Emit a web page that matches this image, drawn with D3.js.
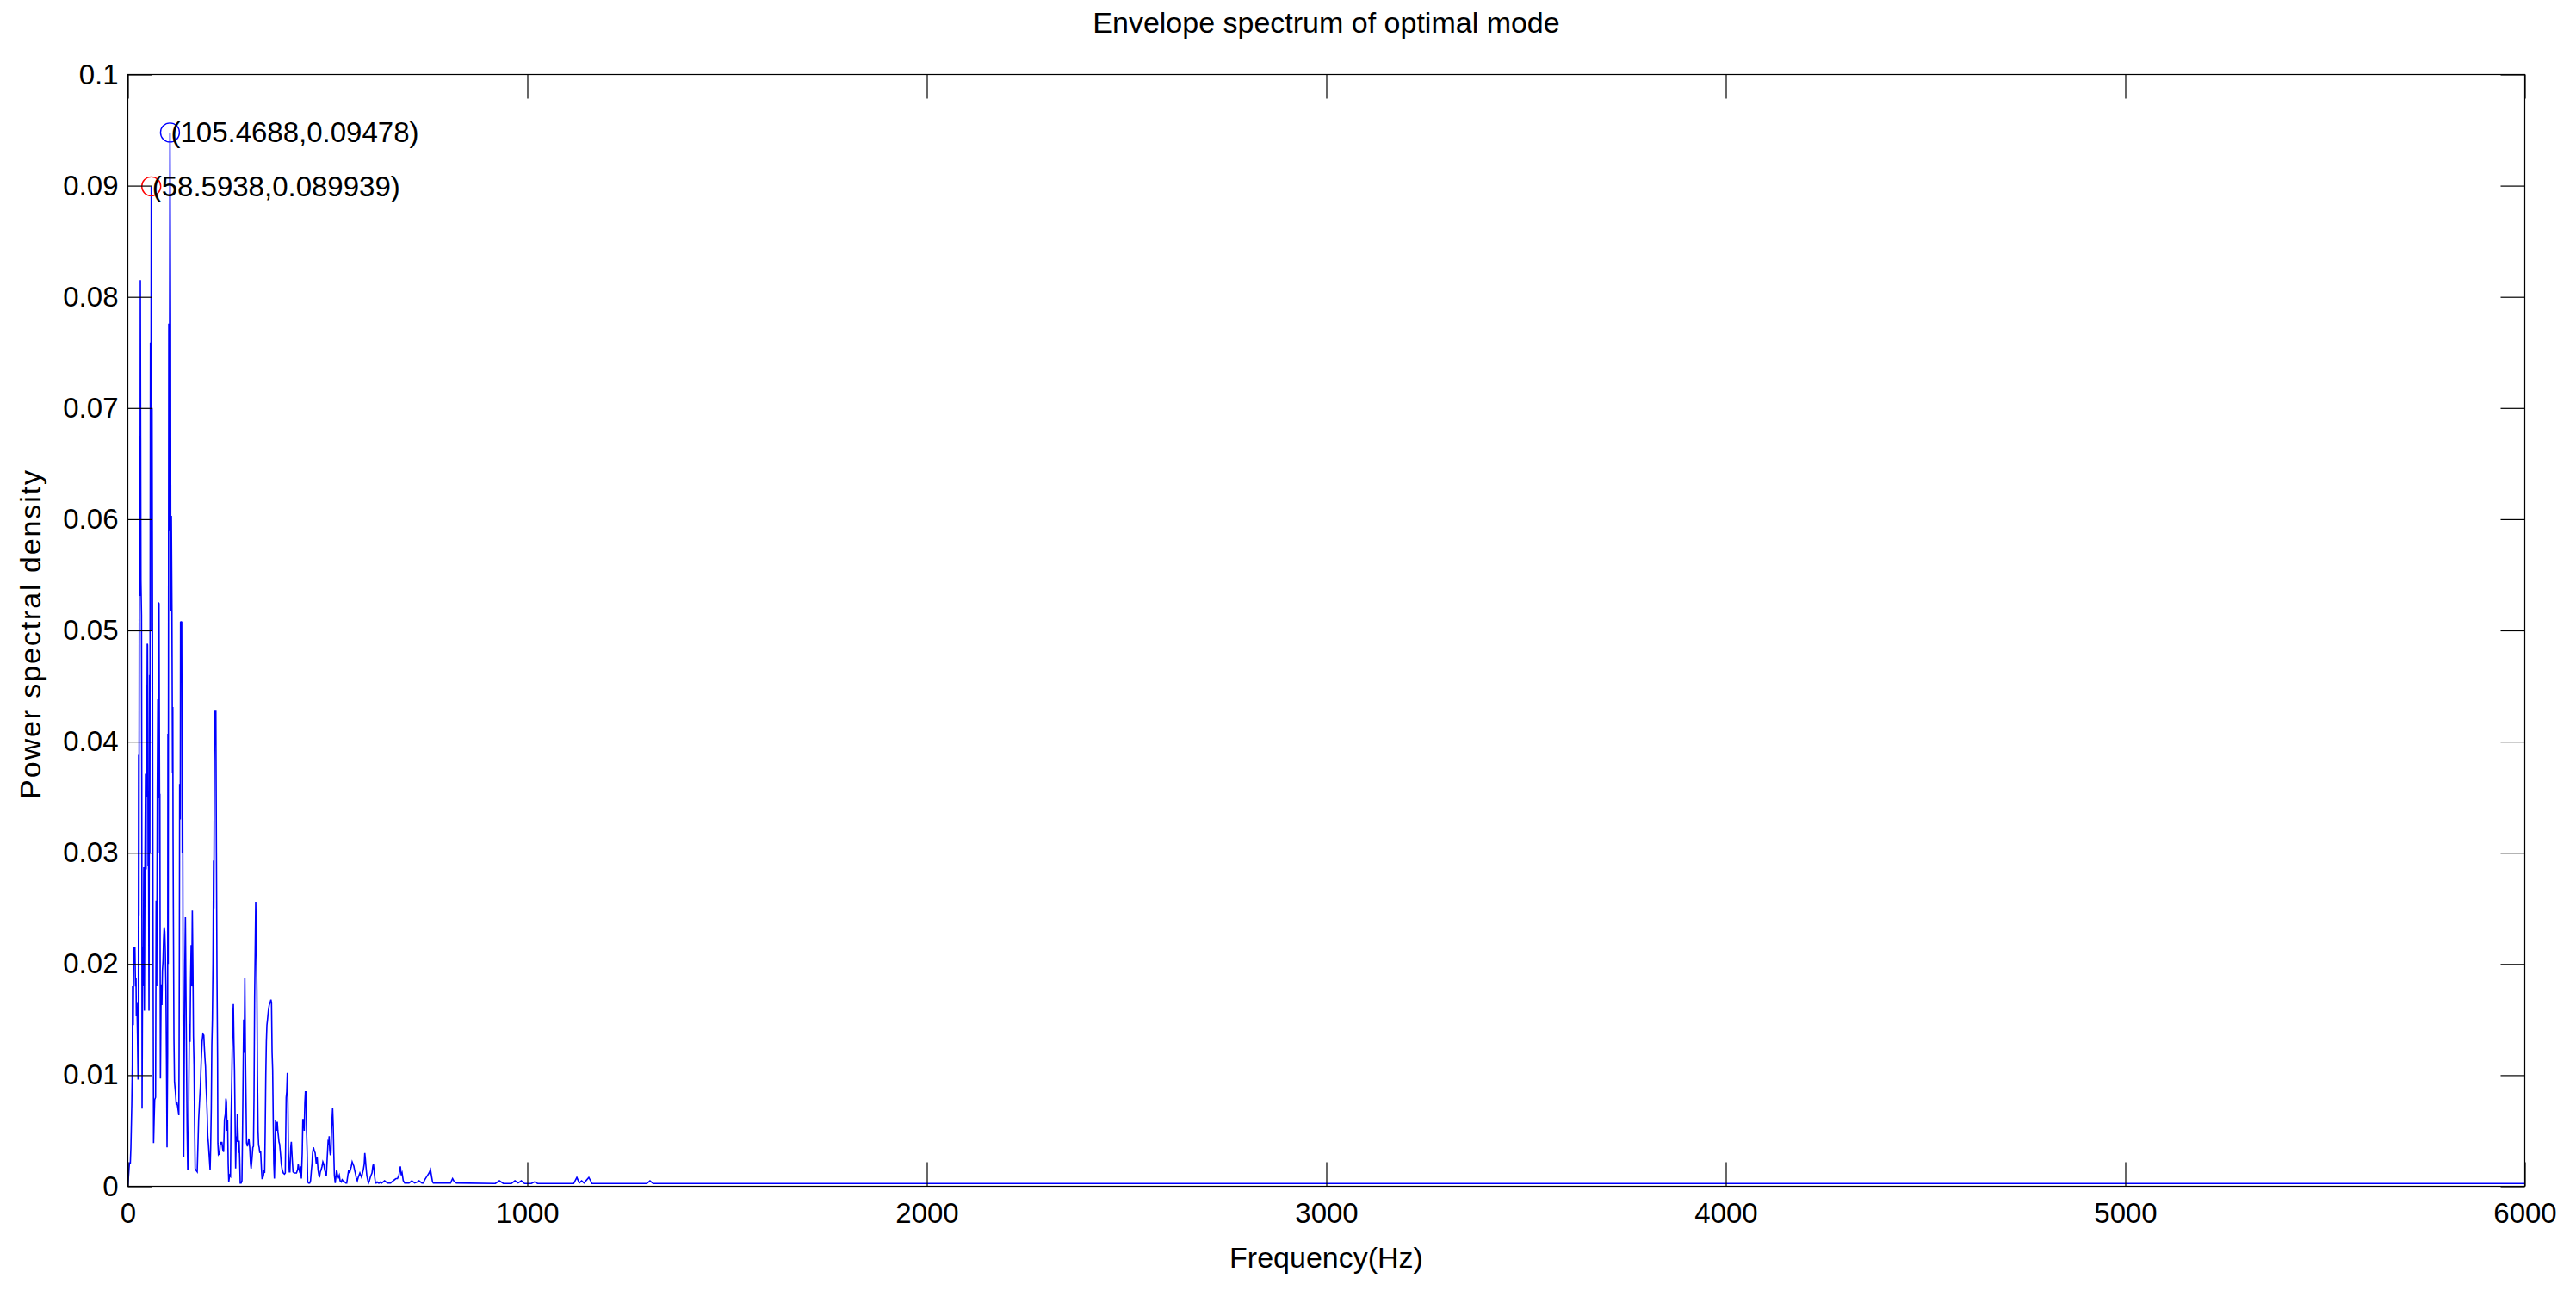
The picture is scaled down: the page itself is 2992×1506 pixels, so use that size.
<!DOCTYPE html>
<html><head><meta charset="utf-8">
<script src="https://cdn.jsdelivr.net/npm/d3@7"></script>
<style>
html,body{margin:0;padding:0;background:#fff;}
svg{display:block;}
text{font-family:"Liberation Sans", Arial, Helvetica, sans-serif;fill:#000;}
</style>
</head><body>
<svg id="chart" width="2992" height="1506"></svg>
<script>
// ---------- data ----------
const freqHz = [
0,4.0,6.2,7.6,9.8,11.2,11.9,13.4,14.8,16.2,17.7,19.1,20.5,21.3,22.7,24.1,25.6,26.3,27.0,27.7,
29.2,30.6,31.3,32.8,34.2,34.9,35.6,37.1,38.5,39.9,41.4,42.8,44.3,45.7,46.4,47.1,48.6,49.3,50.0,50.7,
51.4,52.9,54.3,55.0,56.5,57.2,58.5938,59.8,60.6,61.5,62.2,62.9,64.4,65.8,67.2,69.4,70.8,72.3,73.7,75.1,
75.9,76.6,78.0,79.5,80.2,80.9,81.6,83.0,83.8,85.2,86.6,88.1,89.5,90.9,92.4,93.8,95.3,96.7,98.1,99.6,
100.3,101.0,102.5,103.2,104.6,105.4688,106.8,107.5,108.9,110.4,111.8,112.5,113.2,113.9,115.4,116.8,119.0,121.1,123.3,125.4,
127.6,128.3,129.0,129.7,131.2,131.9,133.3,134.8,136.2,136.9,138.4,139.8,141.2,142.7,144.1,145.6,147.0,148.4,149.9,151.3,
152.7,154.2,155.6,157.0,158.5,159.9,161.4,162.8,164.2,165.7,167.1,168.5,171.4,173.6,175.7,177.2,179.3,181.5,183.6,185.8,
187.9,190.1,191.5,193.0,194.4,195.8,197.3,198.7,200.1,201.6,203.7,205.9,207.3,208.8,210.2,211.6,213.1,214.5,215.2,216.7,
218.1,220.3,221.7,223.1,224.6,225.3,226.7,228.2,229.6,231.0,232.5,233.9,235.3,237.5,239.7,241.8,244.0,245.4,246.8,248.3,
249.7,251.2,252.6,254.7,256.9,258.3,259.8,261.2,262.6,264.1,265.5,267.0,268.4,269.8,271.3,272.7,274.1,275.6,277.0,278.5,
279.9,281.3,283.5,285.6,287.1,288.5,290.0,291.4,292.8,294.3,295.7,297.1,299.3,301.4,302.9,305.0,307.2,308.6,310.8,312.9,
314.4,315.8,317.3,318.7,320.1,321.6,323.0,324.4,325.9,327.3,328.7,330.2,332.3,334.5,335.9,337.4,339.5,341.0,342.4,343.8,
345.3,346.7,348.1,349.6,351.7,353.9,356.0,358.2,359.6,361.1,362.5,363.9,365.4,366.8,368.3,369.7,371.1,372.6,374.0,375.4,
376.9,378.3,379.8,381.9,384.1,386.2,389.1,392.0,394.1,396.3,397.7,399.2,400.6,402.0,404.2,405.6,407.8,409.2,411.4,413.5,
416.4,419.3,422.1,425.0,426.4,428.6,430.8,432.2,434.4,436.5,438.0,440.1,441.5,443.0,444.4,445.8,447.3,448.7,450.2,452.3,
455.2,457.3,459.5,460.9,462.4,464.5,466.7,468.8,470.3,471.7,473.9,476.0,478.2,479.6,481.8,483.9,486.1,488.2,490.4,492.5,
494.7,496.8,499.0,501.2,502.6,504.0,505.5,506.9,508.3,509.8,511.2,512.6,514.1,515.5,517.0,519.1,521.3,522.7,524.8,527.0,
529.2,531.3,534.2,536.4,538.5,540.7,542.8,545.7,547.9,550.7,552.9,555.0,557.2,559.4,561.5,563.7,565.8,567.3,569.4,571.6,
574.4,576.6,578.8,580.9,583.1,585.2,587.4,589.5,591.7,593.1,594.5,596.0,598.1,600.3,602.4,604.6,606.8,608.9,611.1,613.2,
614.7,616.1,617.5,619.7,621.8,624.0,626.9,629.7,632.6,635.5,639.1,642.7,646.3,649.9,653.5,657.8,660.6,664.2,667.8,671.4,
675.0,678.6,682.2,684.4,686.5,689.4,693.0,696.6,703.8,707.3,710.9,714.5,718.1,725.3,728.9,732.5,736.1,739.7,743.3,746.9,
750.4,754.0,757.6,759.8,762.7,764.8,807.9,811.5,812.9,815.8,818.7,822.3,
920,930,940,960,969,977,985,993,1010,1018,1026,1116,1124,1130,1136,1142,1154,1162,1299,1307,1315,6000
];
const psd = [
0,0.0021,0.0021,0.0035,0.0073,0.0109,0.0180,0.0145,0.0215,0.0199,0.0215,0.0180,0.0187,0.0153,0.0165,0.0137,0.0096,0.0137,0.0388,0.0243,
0.0675,0.0531,0.0815,0.0545,0.0514,0.0364,0.0070,0.0215,0.0180,0.0287,0.0158,0.0287,0.0371,0.0285,0.0451,0.0350,0.0488,0.0487,0.0410,0.0288,
0.0355,0.0158,0.0460,0.0300,0.0759,0.0500,0.089939,0.0608,0.0700,0.0554,0.0380,0.0250,0.0039,0.0060,0.0078,0.0080,0.0257,0.0180,0.0355,0.0438,
0.0300,0.0525,0.0524,0.0349,0.0353,0.0200,0.0097,0.0163,0.0181,0.0163,0.0194,0.0203,0.0222,0.0233,0.0229,0.0212,0.0180,0.0114,0.0035,0.0120,
0.0407,0.0200,0.0776,0.0590,0.0776,0.09478,0.0780,0.0517,0.0603,0.0517,0.0372,0.0431,0.0313,0.0250,0.0132,0.0094,0.0085,0.0074,0.0075,0.0070,
0.0064,0.0121,0.0215,0.0362,0.0330,0.0508,0.0507,0.0508,0.0300,0.0410,0.0155,0.0026,0.0112,0.0200,0.0242,0.0170,0.0106,0.0050,0.0015,0.0017,
0.0090,0.0146,0.0130,0.0185,0.0217,0.0180,0.0248,0.0200,0.0135,0.0109,0.0055,0.0016,0.0014,0.0013,0.0040,0.0060,0.0075,0.0090,0.0112,0.0130,
0.0137,0.0136,0.0125,0.0115,0.0108,0.0090,0.0078,0.0064,0.0045,0.0039,0.0027,0.0015,0.0035,0.0070,0.0127,0.0150,0.0201,0.0293,0.0250,0.0382,
0.0428,0.0428,0.0300,0.0190,0.0116,0.0039,0.0029,0.0030,0.0029,0.0037,0.0040,0.0038,0.0040,0.0033,0.0031,0.0060,0.0065,0.0079,0.0076,0.0050,
0.0060,0.0020,0.0004,0.0010,0.0009,0.0060,0.0088,0.0120,0.0150,0.0164,0.0130,0.0104,0.0060,0.0016,0.0045,0.0040,0.0065,0.0050,0.0030,0.0041,
0.0025,0.0003,0.0003,0.0005,0.0050,0.0100,0.0150,0.0120,0.0187,0.0120,0.0080,0.0039,0.0036,0.0040,0.0043,0.0035,0.0020,0.0016,0.0025,0.0035,
0.0036,0.0080,0.0170,0.0212,0.0256,0.0220,0.0177,0.0100,0.0050,0.0037,0.0035,0.0030,0.0032,0.0015,0.0007,0.0007,0.0010,0.0015,0.0012,0.0050,
0.0100,0.0130,0.0145,0.0150,0.0158,0.0163,0.0165,0.0168,0.0165,0.0120,0.0105,0.0060,0.0020,0.0007,0.0030,0.0060,0.0055,0.0050,0.0058,0.0050,
0.0045,0.0040,0.0038,0.0030,0.0020,0.0015,0.0012,0.0011,0.0012,0.0080,0.0085,0.0102,0.0075,0.0030,0.0013,0.0013,0.0035,0.0040,0.0025,0.0013,
0.0012,0.0012,0.0012,0.0015,0.0020,0.0015,0.0012,0.0018,0.0007,0.0030,0.0060,0.0060,0.0050,0.0075,0.0085,0.0085,0.0050,0.0032,0.0004,0.0003,
0.0003,0.0005,0.0015,0.0020,0.0030,0.0035,0.0032,0.0030,0.0025,0.0020,0.0026,0.0015,0.0010,0.0008,0.0013,0.0015,0.0018,0.0022,0.0020,0.0015,
0.0012,0.0009,0.0025,0.0040,0.0039,0.0045,0.0032,0.0028,0.0030,0.0050,0.0060,0.0070,0.0055,0.0030,0.0010,0.0003,0.0010,0.0015,0.0010,0.0008,
0.0010,0.0005,0.0004,0.0006,0.0005,0.0004,0.0004,0.0003,0.0003,0.0010,0.0015,0.0012,0.0015,0.0018,0.0022,0.0020,0.0018,0.0015,0.0012,0.0008,
0.0005,0.0008,0.0010,0.0012,0.0010,0.0008,0.0012,0.0015,0.0020,0.0030,0.0025,0.0018,0.0010,0.0006,0.0003,0.0005,0.0008,0.0010,0.0012,0.0018,
0.0020,0.0015,0.0010,0.0003,0.0003,0.0004,0.0003,0.0003,0.0004,0.0003,0.0004,0.0005,0.0004,0.0003,0.0003,0.0003,0.0004,0.0005,0.0006,0.0007,
0.0007,0.0010,0.0018,0.0010,0.0012,0.0005,0.0003,0.0003,0.0003,0.0004,0.0005,0.0004,0.0003,0.0004,0.0005,0.0004,0.0003,0.0003,0.0006,0.0008,
0.0010,0.0012,0.0015,0.0010,0.0004,0.0003,0.0003,0.0006,0.0007,0.0005,0.0004,0.0003,
0.00025,0.0005,0.00025,0.00025,0.0005,0.0003,0.0005,0.00025,0.00025,0.0004,0.00025,0.00025,0.0008,0.0003,0.0005,0.0003,0.0008,0.00025,0.00025,0.0005,0.00025,0.00025
];
const peakFreq = [58.5938, 105.4688];
const peakPsd = [0.089939, 0.09478];
const xTicks = [0,1000,2000,3000,4000,5000,6000];
const yTicks = [0,0.01,0.02,0.03,0.04,0.05,0.06,0.07,0.08,0.09,0.1];
const titleText = "Envelope spectrum of optimal mode";
const xLabelText = "Frequency(Hz)";
const yLabelText = "Power spectral density";

// ---------- layout ----------
const L = 148.5, R = 2932.5, T = 86.5, B = 1377.5;
const svg = d3.select("#chart");
const x = d3.scaleLinear().domain([0, 6000]).range([L, R]);
const y = d3.scaleLinear().domain([0, 0.1]).range([B, T]);
const peakColors = ["#ff0000", "#0000ff"];
const tickLen = 28;
const fmtY = d => d === 0 ? "0" : String(+d.toFixed(2));

// background
svg.append("rect").attr("width", 2992).attr("height", 1506).attr("fill", "#fff");

// data line
const pts = freqHz.map((f, i) => [f, psd[i]]);
svg.append("path")
  .datum(pts)
  .attr("fill", "none")
  .attr("stroke", "#0000ff")
  .attr("stroke-width", 1.6)
  .attr("stroke-linejoin", "miter")
  .attr("d", d3.line().x(d => x(d[0])).y(d => y(d[1])));

// peak markers
peakFreq.forEach((f, i) => {
  svg.append("circle")
    .attr("cx", x(f)).attr("cy", y(peakPsd[i])).attr("r", 11)
    .attr("fill", "none").attr("stroke", peakColors[i]).attr("stroke-width", 1.4);
});

// axes
const gx = svg.append("g").attr("transform", `translate(0,${B})`)
  .call(d3.axisBottom(x).tickValues(xTicks).tickFormat(d3.format("d")).tickSizeInner(-tickLen).tickSizeOuter(0).tickPadding(19));
const gxt = svg.append("g").attr("transform", `translate(0,${T})`)
  .call(d3.axisTop(x).tickValues(xTicks).tickFormat("").tickSizeInner(-tickLen).tickSizeOuter(0));
const gy = svg.append("g").attr("transform", `translate(${L},0)`)
  .call(d3.axisLeft(y).tickValues(yTicks).tickFormat(fmtY).tickSizeInner(-tickLen).tickSizeOuter(0).tickPadding(11));
const gyr = svg.append("g").attr("transform", `translate(${R},0)`)
  .call(d3.axisRight(y).tickValues(yTicks).tickFormat("").tickSizeInner(-tickLen).tickSizeOuter(0));
[gx, gxt, gy, gyr].forEach(g => {
  g.select(".domain").remove();
  g.selectAll(".tick line").attr("stroke", "#000").attr("stroke-width", 1.2);
  g.selectAll(".tick text").attr("font-size", 33).attr("font-family", "Liberation Sans, Arial, sans-serif").attr("fill", "#000");
});
// box
svg.append("rect").attr("x", L).attr("y", T).attr("width", R - L).attr("height", B - T)
  .attr("fill", "none").attr("stroke", "#000").attr("stroke-width", 1.2);

// peak labels
peakFreq.forEach((f, i) => {
  svg.append("text")
    .attr("x", x(f) + 1).attr("y", y(peakPsd[i])).attr("dy", "0.35em")
    .attr("font-size", 33)
    .text(`(${f},${peakPsd[i]})`);
});

// title & labels
svg.append("text").attr("x", (L + R) / 2).attr("y", 38).attr("text-anchor", "middle")
  .attr("font-size", 34).text(titleText);
svg.append("text").attr("x", (L + R) / 2).attr("y", 1472).attr("text-anchor", "middle")
  .attr("font-size", 34).text(xLabelText);
svg.append("text").attr("transform", `translate(47,736) rotate(-90)`).attr("text-anchor", "middle")
  .attr("font-size", 34).attr("letter-spacing", "1.9px").text(yLabelText);
</script>
</body></html>
